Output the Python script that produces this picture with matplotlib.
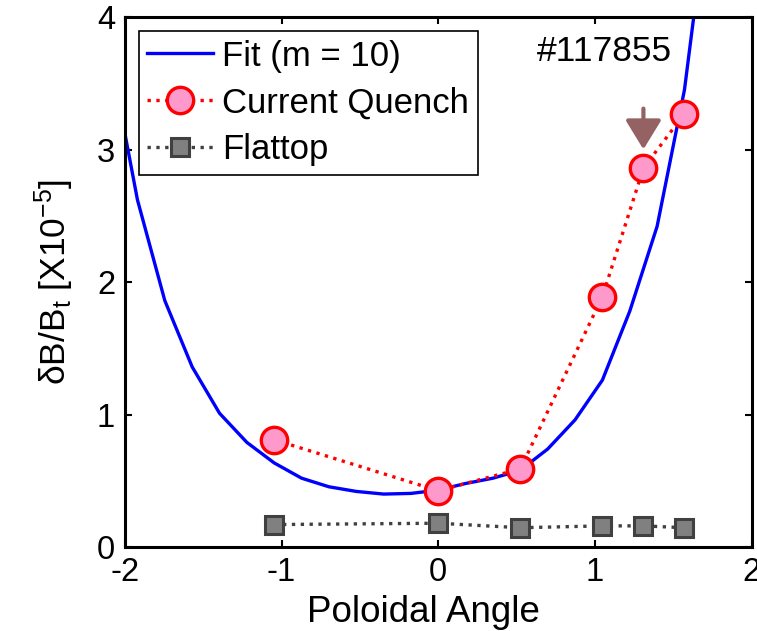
import numpy as np
import matplotlib.pyplot as plt

plt.rcParams['font.family'] = ['Liberation Sans', 'DejaVu Sans']
plt.rcParams['mathtext.fontset'] = 'custom'
plt.rcParams['mathtext.rm'] = 'Liberation Sans'
plt.rcParams['mathtext.it'] = 'Liberation Sans'
plt.rcParams['axes.unicode_minus'] = False

# fit curve, vertices every 10 degrees
fit_k = np.arange(-12, 11)
fit_x = fit_k * np.pi / 18
fit_y = [3.71, 2.62, 1.86, 1.36, 1.01, 0.79, 0.635, 0.52, 0.455, 0.42, 0.40, 0.405,
         0.43, 0.48, 0.52, 0.58, 0.74, 0.96, 1.26, 1.78, 2.42, 3.45, 5.07]

# current quench
cq_x = [-np.pi/3, 0, np.pi/6, np.pi/3, 5*np.pi/12, np.pi/2]
cq_y = [0.81, 0.425, 0.59, 1.89, 2.86, 3.27]

# flattop
ft_x = [-np.pi/3, 0, np.pi/6, np.pi/3, 5*np.pi/12, np.pi/2]
ft_y = [0.17, 0.18, 0.146, 0.16, 0.16, 0.146]

fig = plt.figure(figsize=(7.57, 6.31), dpi=100)
ax = fig.add_axes([0.165, 0.133, 0.828, 0.840])

ax.plot(fit_x, fit_y, '-', color='#0000ff', lw=2.4, label='Fit (m = 10)')
ax.plot(cq_x, cq_y, ':', color='#ff0000', lw=2.4, marker='o', ms=19,
        mfc='#ff99cc', mec='#ff0000', mew=2.4, label='Current Quench')
ax.plot(ft_x, ft_y, ':', color='#404040', lw=2.4, marker='s', ms=13,
        mfc='#808080', mec='#404040', mew=2.2, label='Flattop')

ax.annotate('', xy=(5*np.pi/12, 2.98), xytext=(5*np.pi/12, 3.33),
            arrowprops=dict(arrowstyle='-|>,head_length=0.9,head_width=0.55',
                            mutation_scale=20, color='#946262', lw=3))
ax.text(1.06, 3.74, '#117855', fontsize=25.5, ha='center', va='center')

ax.set_xlim(-2, 2)
ax.set_ylim(0, 4)
ax.set_xticks([-2, -1, 0, 1, 2])
ax.set_yticks([0, 1, 2, 3, 4])
ax.tick_params(direction='in', length=5, width=1.5, labelsize=23.5,
               top=True, right=True, pad=7)
for s in ax.spines.values():
    s.set_linewidth(2.2)

ax.set_xlabel('Poloidal Angle', fontsize=26.5, labelpad=1)
ax.xaxis.set_label_coords(0.477, -0.09)
ax.set_ylabel(r'$\delta$B/B$_{\rm t}$ [X10$^{-5}$]', fontsize=25.5, labelpad=15)

leg = ax.legend(loc='upper left', fontsize=25, fancybox=False, framealpha=1,
                edgecolor='black', handlelength=1.9, borderpad=0.25,
                labelspacing=0.4, handletextpad=0.25, borderaxespad=0.4)
leg.get_frame().set_linewidth(1.2)

fig.savefig('out.png', dpi=100)
